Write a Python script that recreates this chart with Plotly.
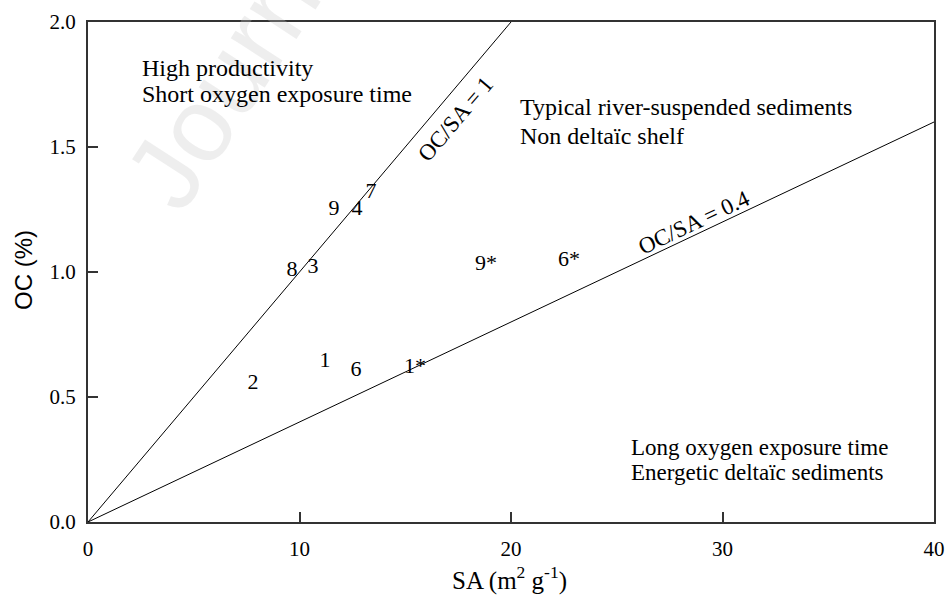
import math
import plotly.graph_objects as go

# ---- data ----
sa_values = [11.21, 7.80, 10.64, 12.72, 12.67, 13.38, 9.65, 11.63, 15.46, 22.74, 18.82]
oc_values = [0.644, 0.556, 1.02, 1.252, 0.608, 1.32, 1.008, 1.252, 0.62, 1.048, 1.032]
sample_labels = ["1", "2", "3", "4", "6", "7", "8", "9", "1*", "6*", "9*"]

ratios = [1.0, 0.4]                      # OC/SA (mg OC m^-2)
ratio_labels = ["OC/SA = 1", "OC/SA = 0.4"]
ratio_label_x = [17.35, 28.65]
ratio_label_y = [1.612, 1.198]

x_ticks = [0, 10, 20, 30, 40]
y_ticks = [0.0, 0.5, 1.0, 1.5, 2.0]
X_MAX, Y_MAX = 40, 2.0

SERIF = "Liberation Serif, Times New Roman, serif"
SANS = "Liberation Sans, Arial, sans-serif"

fig = go.Figure()

# reference lines OC% = ratio * SA / 10
for r in ratios:
    x_end = min(X_MAX, Y_MAX / (r / 10.0))
    fig.add_trace(go.Scatter(
        x=[0, x_end], y=[0, r * x_end / 10.0], mode="lines",
        line=dict(color="black", width=1), hoverinfo="skip", showlegend=False))

# sample labels used as markers
fig.add_trace(go.Scatter(
    x=sa_values, y=oc_values, mode="text", text=sample_labels,
    textposition="middle center",
    textfont=dict(family=SERIF, size=22, color="black"),
    showlegend=False, cliponaxis=False))

W_PLOT, H_PLOT = 846.0, 500.0

annotations = []
# faint watermark of the source page
annotations.append(dict(
    text="Journal Pre-proof", xref="paper", yref="paper", x=0.336, y=1.332,
    xanchor="center", yanchor="middle",
    showarrow=False, textangle=-57,
    font=dict(family=SANS, size=105, color="rgba(200,200,200,0.3)")))

for r, lab, lx, ly in zip(ratios, ratio_labels, ratio_label_x, ratio_label_y):
    ang = math.degrees(math.atan((r / 10.0) * (H_PLOT / Y_MAX) / (W_PLOT / X_MAX)))
    annotations.append(dict(
        text=lab, x=lx, y=ly, xref="x", yref="y", showarrow=False,
        xanchor="center", yanchor="middle", textangle=-ang,
        font=dict(family=SERIF, size=23, color="black")))

region_texts = [
    ("High productivity", 140, 68, 24),
    ("Short oxygen exposure time", 140, 94, 24),
    ("Typical river-suspended sediments", 518, 107, 24),
    ("Non deltaïc shelf", 518, 136, 24),
    ("Long oxygen exposure time", 629, 447, 23),
    ("Energetic deltaïc sediments", 629, 472, 23),
]
for t, px, py, fs in region_texts:
    annotations.append(dict(
        text=t, xref="paper", yref="paper",
        x=(px - 88) / W_PLOT, y=(522 - py) / H_PLOT,
        xanchor="left", yanchor="middle", showarrow=False,
        font=dict(family=SERIF, size=fs, color="black")))

# axis titles
annotations.append(dict(
    text="SA (m<sup>2</sup> g<sup>-1</sup>)", xref="paper", yref="paper",
    x=(509 - 88) / W_PLOT, y=(522 - 578) / H_PLOT, showarrow=False,
    xanchor="center", yanchor="middle",
    font=dict(family=SERIF, size=25, color="black")))
annotations.append(dict(
    text="OC (%)", xref="paper", yref="paper",
    x=(23 - 88) / W_PLOT, y=(522 - 270) / H_PLOT, showarrow=False,
    textangle=-90, xanchor="center", yanchor="middle",
    font=dict(family=SANS, size=24, color="black")))

axis_common = dict(
    showgrid=False, zeroline=False, showline=True, linecolor="#333333",
    linewidth=2, mirror=True, ticks="inside", ticklen=10, tickwidth=1.5,
    tickcolor="#333333", automargin=False,
    tickfont=dict(family=SERIF, size=21, color="black"))

fig.update_layout(
    width=948, height=602,
    margin=dict(l=88, r=14, t=22, b=80, autoexpand=False),
    paper_bgcolor="white", plot_bgcolor="white",
    xaxis=dict(range=[0, X_MAX], tickvals=x_ticks, ticklabelstandoff=7, **axis_common),
    yaxis=dict(range=[0, Y_MAX], tickvals=y_ticks, tickformat=".1f",
               ticklabelstandoff=6, **axis_common),
    annotations=annotations,
    showlegend=False,
)

fig.write_html("out.html")
